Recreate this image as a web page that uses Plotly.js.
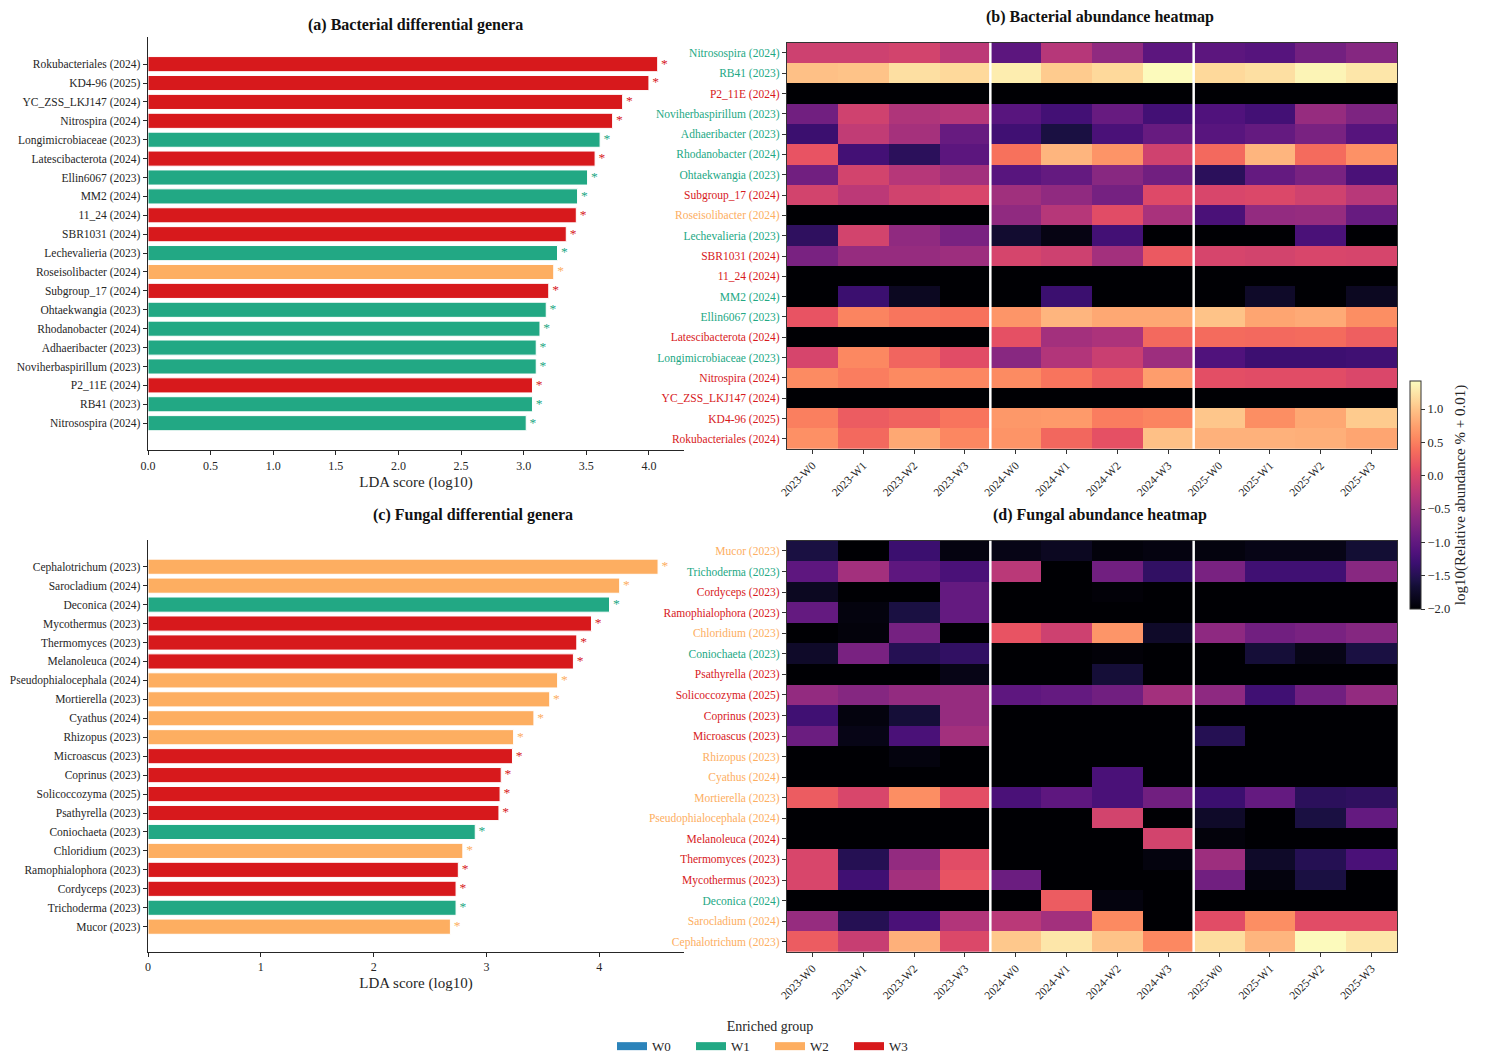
<!DOCTYPE html>
<html>
<head>
<meta charset="utf-8">
<script src="https://cdn.plot.ly/plotly-3.0.1.min.js"></script>
<style>html,body{margin:0;padding:0;background:#fff;}#chart{width:1487px;height:1064px;}</style>
</head>
<body>
<div id="chart"></div>
<script>
// ---------------- DATA ----------------
const timepoints = ['2023-W0','2023-W1','2023-W2','2023-W3','2024-W0','2024-W1','2024-W2','2024-W3','2025-W0','2025-W1','2025-W2','2025-W3'];
const groupNames = ['W0','W1','W2','W3'];
const groupColors = {W0:'#2b83ba', W1:'#22a884', W2:'#fdae61', W3:'#d7191c'};

// Bacterial genera (descending LDA score)
const bacGenera = ['Rokubacteriales (2024)','KD4-96 (2025)','YC_ZSS_LKJ147 (2024)','Nitrospira (2024)','Longimicrobiaceae (2023)','Latescibacterota (2024)','Ellin6067 (2023)','MM2 (2024)','11_24 (2024)','SBR1031 (2024)','Lechevalieria (2023)','Roseisolibacter (2024)','Subgroup_17 (2024)','Ohtaekwangia (2023)','Rhodanobacter (2024)','Adhaeribacter (2023)','Noviherbaspirillum (2023)','P2_11E (2024)','RB41 (2023)','Nitrosospira (2024)'];
const bacLDA = [4.07,4.00,3.79,3.71,3.61,3.57,3.51,3.43,3.42,3.34,3.27,3.24,3.20,3.18,3.13,3.10,3.10,3.07,3.07,3.02];
const bacGroup = ['W3','W3','W3','W3','W1','W3','W1','W1','W3','W3','W1','W2','W3','W1','W1','W1','W1','W3','W1','W1'];

// Bacterial log10 abundance (rows follow bacGenera order)
const bacAbund = [
  [0.62,0.33,0.80,0.55, 0.65,0.32,0.12,0.98, 0.87,0.87,0.85,0.78],
  [0.50,0.22,0.28,0.42, 0.68,0.70,0.48,0.53, 1.02,0.60,0.80,1.05],
  [-2,-2,-2,-2, -2,-2,-2,-2, -2,-2,-2,-2],
  [0.58,0.48,0.57,0.55, 0.58,0.42,0.25,0.72, 0.10,0.08,0.08,0.02],
  [-0.02,0.56,0.30,0.08, -0.67,-0.33,-0.13,-0.50, -1.15,-1.30,-1.30,-1.28],
  [-2,-2,-2,-2, 0.12,-0.45,-0.38,0.33, 0.35,0.33,0.35,0.25],
  [0.15,0.53,0.43,0.40, 0.66,0.90,0.80,0.80, 1.00,0.78,0.82,0.60],
  [-2,-1.32,-1.80,-2, -2,-1.32,-2,-2, -2,-1.75,-2,-1.80],
  [-2,-2,-2,-2, -2,-2,-2,-2, -2,-2,-2,-2],
  [-0.80,-0.55,-0.55,-0.50, -0.03,-0.10,-0.45,0.20, -0.02,-0.05,0.00,-0.02],
  [-1.42,-0.05,-0.60,-0.80, -1.70,-1.90,-1.25,-2, -2,-2,-1.20,-2],
  [-2,-2,-2,-2, -0.60,-0.30,0.08,-0.40, -1.20,-0.58,-0.55,-0.95],
  [-0.05,-0.25,-0.07,0.00, -0.47,-0.60,-0.83,0.05, 0.00,0.03,-0.08,-0.28],
  [-0.87,-0.05,-0.30,-0.46, -1.08,-0.97,-0.67,-0.87, -1.45,-0.97,-0.80,-1.20],
  [0.15,-1.25,-1.45,-1.05, 0.40,0.90,0.65,-0.08, 0.33,0.90,0.35,0.63],
  [-1.32,-0.20,-0.43,-0.95, -1.28,-1.60,-1.20,-0.95, -1.08,-0.97,-0.80,-1.10],
  [-0.87,-0.08,-0.35,-0.30, -1.08,-1.25,-0.95,-1.25, -1.15,-1.25,-0.55,-0.77],
  [-2,-2,-2,-2, -2,-2,-2,-2, -2,-2,-2,-2],
  [0.98,1.00,1.20,1.15, 1.30,1.05,1.15,1.40, 1.15,1.20,1.35,1.25],
  [-0.10,-0.10,-0.05,-0.25, -1.05,-0.30,-0.60,-1.05, -1.05,-1.10,-0.85,-0.70]
];

// Fungal genera (descending LDA score)
const funGenera = ['Cephalotrichum (2023)','Sarocladium (2024)','Deconica (2024)','Mycothermus (2023)','Thermomyces (2023)','Melanoleuca (2024)','Pseudophialocephala (2024)','Mortierella (2023)','Cyathus (2024)','Rhizopus (2023)','Microascus (2023)','Coprinus (2023)','Solicoccozyma (2025)','Psathyrella (2023)','Coniochaeta (2023)','Chloridium (2023)','Ramophialophora (2023)','Cordyceps (2023)','Trichoderma (2023)','Mucor (2023)'];
const funLDA = [4.52,4.18,4.09,3.93,3.80,3.77,3.63,3.56,3.42,3.24,3.23,3.13,3.12,3.11,2.90,2.79,2.75,2.73,2.73,2.68];
const funGroup = ['W2','W2','W1','W3','W3','W3','W2','W2','W2','W2','W3','W3','W3','W3','W1','W2','W3','W3','W1','W2'];

// Fungal log10 abundance (rows follow funGenera order)
const funAbund = [
  [0.22,-0.15,0.86,0.03, 1.03,1.25,1.00,0.56, 1.18,0.90,1.40,1.25],
  [-0.55,-1.50,-1.20,-0.33, -0.26,-0.45,0.57,-2, 0.08,0.60,0.08,0.08],
  [-2,-2,-2,-2, -2,0.22,-1.93,-2, -2,-2,-2,-2],
  [0.00,-1.28,-0.45,0.15, -0.92,-2,-2,-2, -0.87,-1.93,-1.60,-2],
  [0.00,-1.50,-0.58,0.08, -2,-2,-2,-1.93, -0.50,-1.75,-1.50,-1.20],
  [-2,-2,-2,-2, -2,-2,-2,-0.05, -1.95,-2,-2,-2],
  [-2,-2,-2,-2, -2,-2,-0.05,-2, -1.75,-2,-1.60,-0.97],
  [0.22,0.00,0.60,0.10, -1.20,-1.03,-1.20,-0.87, -1.32,-0.97,-1.45,-1.42],
  [-2,-2,-2,-2, -2,-2,-1.20,-2, -2,-2,-2,-2],
  [-2,-2,-1.93,-2, -2,-2,-2,-2, -2,-2,-2,-2],
  [-0.92,-1.88,-1.20,-0.45, -2,-2,-2,-2, -1.50,-2,-2,-2],
  [-1.28,-1.93,-1.65,-0.55, -2,-2,-2,-2, -2,-2,-2,-2],
  [-0.58,-0.70,-0.58,-0.55, -1.03,-0.97,-0.87,-0.45, -0.62,-1.28,-0.87,-0.58],
  [-2,-2,-2,-1.88, -2,-2,-1.65,-2, -2,-2,-2,-2],
  [-1.75,-0.80,-1.50,-1.40, -2,-2,-1.97,-2, -2,-1.65,-1.88,-1.60],
  [-2,-1.95,-0.83,-2, 0.15,-0.10,0.66,-1.75, -0.62,-0.87,-0.80,-0.70],
  [-0.97,-1.93,-1.60,-0.97, -2,-2,-2,-2, -2,-2,-2,-2],
  [-1.80,-2,-2,-0.97, -2,-2,-1.97,-2, -2,-2,-2,-2],
  [-1.03,-0.45,-1.03,-1.20, -0.26,-2,-0.87,-1.40, -0.80,-1.28,-1.28,-0.67],
  [-1.60,-2,-1.32,-1.92, -1.88,-1.80,-1.95,-1.92, -1.93,-1.88,-1.88,-1.67]
];

const colorbarTicks = [-2.0,-1.5,-1.0,-0.5,0.0,0.5,1.0];

// ---------------- STYLE ----------------
const FONT = 'Liberation Serif, Times New Roman, serif';
const INK = '#262626';
const W = 1487, H = 1064;
const px = v => v / W;
const py = v => 1 - v / H;

const magma = [
  [0.0,'#000004'],[0.1,'#140e36'],[0.125,'#1d1147'],[0.2,'#3b0f70'],[0.25,'#51127c'],
  [0.3,'#641a80'],[0.375,'#832681'],[0.4,'#8c2981'],[0.5,'#b73779'],[0.6,'#de4968'],
  [0.625,'#e75263'],[0.7,'#f7705c'],[0.75,'#fc8961'],[0.8,'#fe9f6d'],[0.875,'#fec287'],
  [0.9,'#fecf92'],[1.0,'#fcfdbf']
];

function colored(names, groups) {
  return names.map((n, i) => '<span style="color:' + groupColors[groups[i]] + '">' + n + '</span>');
}

const traces = [];

// (a) bars
traces.push({
  type:'bar', orientation:'h', x: bacLDA, y: bacGenera, xaxis:'x', yaxis:'y',
  width: 0.8,
  marker:{color: bacGroup.map(g => groupColors[g]), line:{color:'#ffffff', width:1}},
  showlegend:false, hoverinfo:'x+y'
});
traces.push({
  type:'scatter', mode:'text', x: bacLDA, y: bacGenera, xaxis:'x', yaxis:'y',
  text: bacLDA.map(() => '\u00a0*'), textposition:'middle right',
  textfont:{family:FONT, size:13.5, color: bacGroup.map(g => groupColors[g])},
  showlegend:false, hoverinfo:'skip', cliponaxis:false
});
// (c) bars
traces.push({
  type:'bar', orientation:'h', x: funLDA, y: funGenera, xaxis:'x3', yaxis:'y3',
  width: 0.8,
  marker:{color: funGroup.map(g => groupColors[g]), line:{color:'#ffffff', width:1}},
  showlegend:false, hoverinfo:'x+y'
});
traces.push({
  type:'scatter', mode:'text', x: funLDA, y: funGenera, xaxis:'x3', yaxis:'y3',
  text: funLDA.map(() => '\u00a0*'), textposition:'middle right',
  textfont:{family:FONT, size:13.5, color: funGroup.map(g => groupColors[g])},
  showlegend:false, hoverinfo:'skip', cliponaxis:false
});
// (b) heatmap
traces.push({
  type:'heatmap', x: timepoints, y: bacGenera, z: bacAbund, xaxis:'x2', yaxis:'y2',
  coloraxis:'coloraxis'
});
// (d) heatmap
traces.push({
  type:'heatmap', x: timepoints, y: funGenera, z: funAbund, xaxis:'x4', yaxis:'y4',
  coloraxis:'coloraxis'
});
// legend entries
groupNames.forEach(g => {
  traces.push({
    type:'scatter', mode:'lines', x:[null], y:[null], xaxis:'x', yaxis:'y',
    name: g, line:{color: groupColors[g], width: 8}, showlegend:true, hoverinfo:'skip'
  });
});

const barX = (dom, range, dtick, fmt) => ({
  domain: dom, range: range, showline:true, linecolor:INK, linewidth:1.3,
  ticks:'outside', ticklen:4, tickwidth:1, tickcolor:INK, dtick:dtick, tick0:0,
  tickformat: fmt, showgrid:false, zeroline:false,
  tickfont:{family:FONT, size:12, color:INK},
  title:{text:'LDA score (log10)', font:{family:FONT, size:15, color:INK}, standoff:4}
});
const barY = (dom, range, cats) => ({
  domain: dom, type:'category', categoryorder:'array', categoryarray: cats, range: range,
  showline:true, linecolor:INK, linewidth:1.3, ticks:'outside', ticklen:4, tickwidth:1,
  tickcolor:INK, showgrid:false, zeroline:false,
  tickfont:{family:FONT, size:11.5, color:INK}
});
const heatX = (dom) => ({
  domain: dom, type:'category', categoryorder:'array', categoryarray: timepoints,
  showline:true, mirror:true, linecolor:'#333', linewidth:1.2,
  ticks:'outside', ticklen:4, tickwidth:1, tickcolor:'#333', tickangle:-45,
  showgrid:false, zeroline:false,
  tickfont:{family:FONT, size:11.5, color:INK}
});
const heatY = (dom, cats, groups) => ({
  domain: dom, type:'category', categoryorder:'array', categoryarray: cats,
  tickvals: cats, ticktext: colored(cats, groups),
  showline:true, mirror:true, linecolor:'#333', linewidth:1.2,
  ticks:'outside', ticklen:4, tickwidth:1, tickcolor:'#333',
  showgrid:false, zeroline:false,
  tickfont:{family:FONT, size:11.5}
});

const dA_x = [px(148), px(684)], dB_x = [px(787), px(1397)];

const layout = {
  width: W, height: H,
  margin:{l:0, r:0, t:0, b:0},
  paper_bgcolor:'#ffffff', plot_bgcolor:'#ffffff',
  font:{family:FONT, color:INK},
  barmode:'overlay',
  xaxis: Object.assign(barX(dA_x, [0, 4.28], 0.5, '.1f'), {anchor:'y'}),
  yaxis: Object.assign(barY([py(450), py(37.3)], [20.42, -1.42], bacGenera), {anchor:'x'}),
  xaxis2: Object.assign(heatX(dB_x), {anchor:'y2'}),
  yaxis2: Object.assign(heatY([py(449), py(42.7)], bacGenera, bacGroup), {anchor:'x2'}),
  xaxis3: Object.assign(barX(dA_x, [0, 4.75], 1, 'd'), {anchor:'y3'}),
  yaxis3: Object.assign(barY([py(951.7), py(540)], [20.32, -1.41], funGenera), {anchor:'x3'}),
  xaxis4: Object.assign(heatX(dB_x), {anchor:'y4'}),
  yaxis4: Object.assign(heatY([py(952), py(540.7)], funGenera, funGroup), {anchor:'x4'}),
  coloraxis:{
    colorscale: magma, cmin:-2, cmax:1.42,
    colorbar:{
      x: px(1410), xanchor:'left', xpad:0, y: py(495), yanchor:'middle', ypad:0,
      len: 228/H, lenmode:'fraction', thickness:11, thicknessmode:'pixels',
      outlinewidth:1, outlinecolor:'#333',
      ticks:'outside', ticklen:4, tickcolor:'#333',
      tickvals: colorbarTicks, tickformat:'.1f',
      tickfont:{family:FONT, size:12.5, color:INK},
      title:{text:'log10(Relative abundance % + 0.01)', side:'right', font:{family:FONT, size:15, color:INK}}
    }
  },
  legend:{
    orientation:'h', x: px(770), xanchor:'center', y: py(1013), yanchor:'top',
    title:{text:'Enriched group', side:'top center', font:{family:FONT, size:14, color:INK}},
    font:{family:FONT, size:13, color:INK}, bgcolor:'rgba(0,0,0,0)', itemwidth:30,
    entrywidth:34, entrywidthmode:'pixels', tracegroupgap:0
  },
  annotations:[
    {text:'<b>(a) Bacterial differential genera</b>', xref:'paper', yref:'paper', x:px(415), y:py(25), xanchor:'center', yanchor:'middle', showarrow:false, font:{family:FONT, size:16, color:'#111'}},
    {text:'<b>(b) Bacterial abundance heatmap</b>', xref:'paper', yref:'paper', x:px(1100), y:py(17), xanchor:'center', yanchor:'middle', showarrow:false, font:{family:FONT, size:16, color:'#111'}},
    {text:'<b>(c) Fungal differential genera</b>', xref:'paper', yref:'paper', x:px(473), y:py(515), xanchor:'center', yanchor:'middle', showarrow:false, font:{family:FONT, size:16, color:'#111'}},
    {text:'<b>(d) Fungal abundance heatmap</b>', xref:'paper', yref:'paper', x:px(1100), y:py(515), xanchor:'center', yanchor:'middle', showarrow:false, font:{family:FONT, size:16, color:'#111'}}
  ],
  shapes:[
    {type:'line', xref:'x2', yref:'y2 domain', x0:3.5, x1:3.5, y0:0, y1:1, line:{color:'#ffffff', width:2.5}},
    {type:'line', xref:'x2', yref:'y2 domain', x0:7.5, x1:7.5, y0:0, y1:1, line:{color:'#ffffff', width:2.5}},
    {type:'line', xref:'x4', yref:'y4 domain', x0:3.5, x1:3.5, y0:0, y1:1, line:{color:'#ffffff', width:2.5}},
    {type:'line', xref:'x4', yref:'y4 domain', x0:7.5, x1:7.5, y0:0, y1:1, line:{color:'#ffffff', width:2.5}}
  ]
};

Plotly.newPlot('chart', traces, layout, {displayModeBar:false, staticPlot:true});
</script>
</body>
</html>
